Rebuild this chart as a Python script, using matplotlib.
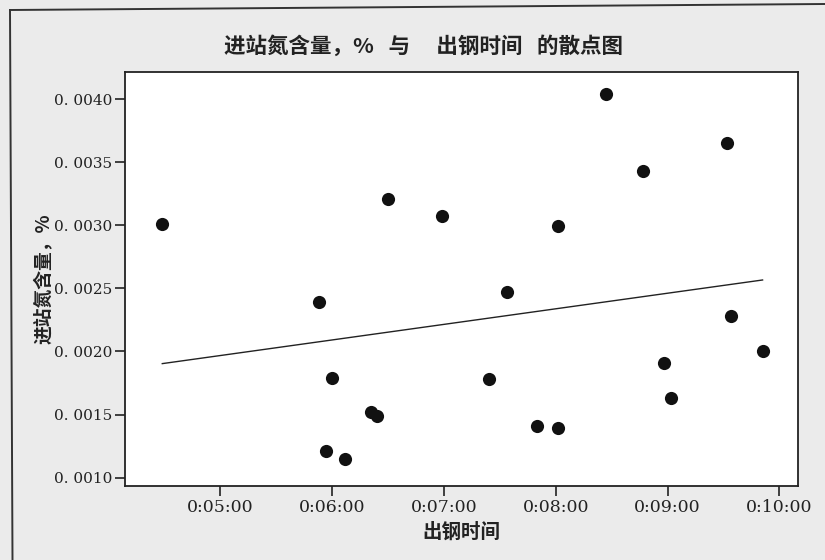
import numpy as np
import matplotlib
matplotlib.use("Agg")
import matplotlib.pyplot as plt
from matplotlib.lines import Line2D
from matplotlib.ticker import FuncFormatter, FixedLocator

plt.rcParams['font.family'] = ['Noto Sans CJK SC', 'DejaVu Sans']

# 出钢时间 (h:mm:ss) and 进站氮含量 (%)
tap_time = ["0:04:29", "0:06:30", "0:05:53", "0:06:00", "0:06:21", "0:06:24",
            "0:05:57", "0:06:07", "0:08:27", "0:09:32", "0:08:47", "0:06:59",
            "0:08:01", "0:07:34", "0:09:34", "0:09:51", "0:08:58", "0:09:02",
            "0:07:24", "0:07:50", "0:08:01"]
nitrogen = [0.00301, 0.00321, 0.00239, 0.00179, 0.00152, 0.00149,
            0.00121, 0.00115, 0.00404, 0.00365, 0.00343, 0.00307,
            0.00299, 0.00247, 0.00228, 0.00200, 0.00191, 0.00163,
            0.00178, 0.00141, 0.00139]

x_ticks = ["0:05:00", "0:06:00", "0:07:00", "0:08:00", "0:09:00", "0:10:00"]
y_ticks = [0.0010, 0.0015, 0.0020, 0.0025, 0.0030, 0.0035, 0.0040]

title = "进站氮含量，%   与\u3000 出钢时间   的散点图"
x_label = "出钢时间"
y_label = "进站氮含量，%"


def to_seconds(s):
    h, m, sec = (int(p) for p in s.split(":"))
    return h * 3600 + m * 60 + sec


def fmt_time(v, pos=None):
    v = int(round(v))
    return f"{v // 3600}:{(v % 3600) // 60:02d}:{v % 60:02d}"


x = np.array([to_seconds(t) for t in tap_time], dtype=float)
y = np.array(nitrogen)

W, H = 825, 560
fig = plt.figure(figsize=(W / 100, H / 100), dpi=100)
fig.patch.set_facecolor('#ebebeb')

# outer frame (top and left edges)
fig.add_artist(Line2D([10 / W, 1.0], [1 - 10 / H, 1 - 4 / H],
                      transform=fig.transFigure, color='#333333', linewidth=1.4))
fig.add_artist(Line2D([10 / W, 12.5 / W], [1 - 10 / H, 0.0],
                      transform=fig.transFigure, color='#333333', linewidth=1.4))

ax = fig.add_axes([125 / W, 1 - 486 / H, 673 / W, 414 / H])
ax.set_facecolor('white')

ax.scatter(x, y, s=90, color='#111111', zorder=3, linewidths=0)

# least-squares fit line
b, a = np.polyfit(x, y, 1)
xs = np.array([x.min(), x.max()])
ax.plot(xs, a + b * xs, color='#222222', linewidth=1.0, zorder=2)

ax.set_xlim(249, 610)
ax.set_ylim(0.000934, 0.004214)

ax.xaxis.set_major_locator(FixedLocator([to_seconds(t) for t in x_ticks]))
ax.xaxis.set_major_formatter(FuncFormatter(fmt_time))
ax.yaxis.set_major_locator(FixedLocator(y_ticks))
ax.yaxis.set_major_formatter(FuncFormatter(lambda v, p: f"{v:.4f}".replace(".", ". ")))

ax.tick_params(axis='both', direction='out', length=7, width=1.2,
               color='#222222', labelcolor='#222222', pad=2)
ax.tick_params(top=False, right=False)
for lab in ax.get_xticklabels():
    lab.set_family(['DejaVu Serif'])
    lab.set_fontsize(12.5)
for lab in ax.get_yticklabels():
    lab.set_family(['DejaVu Serif'])
    lab.set_fontsize(11)

for sp in ax.spines.values():
    sp.set_linewidth(1.3)
    sp.set_color('#222222')

ax.set_xlabel(x_label, fontsize=14, fontweight='bold', color='#222222', labelpad=5)
ax.set_ylabel(y_label, fontsize=13.5, fontweight='bold', color='#222222', labelpad=1)
fig.text(424 / W, 1 - 46 / H, title, fontsize=15.5, fontweight='bold',
         color='#222222', ha='center', va='center')

fig.savefig("out.png", dpi=100, facecolor=fig.get_facecolor())
